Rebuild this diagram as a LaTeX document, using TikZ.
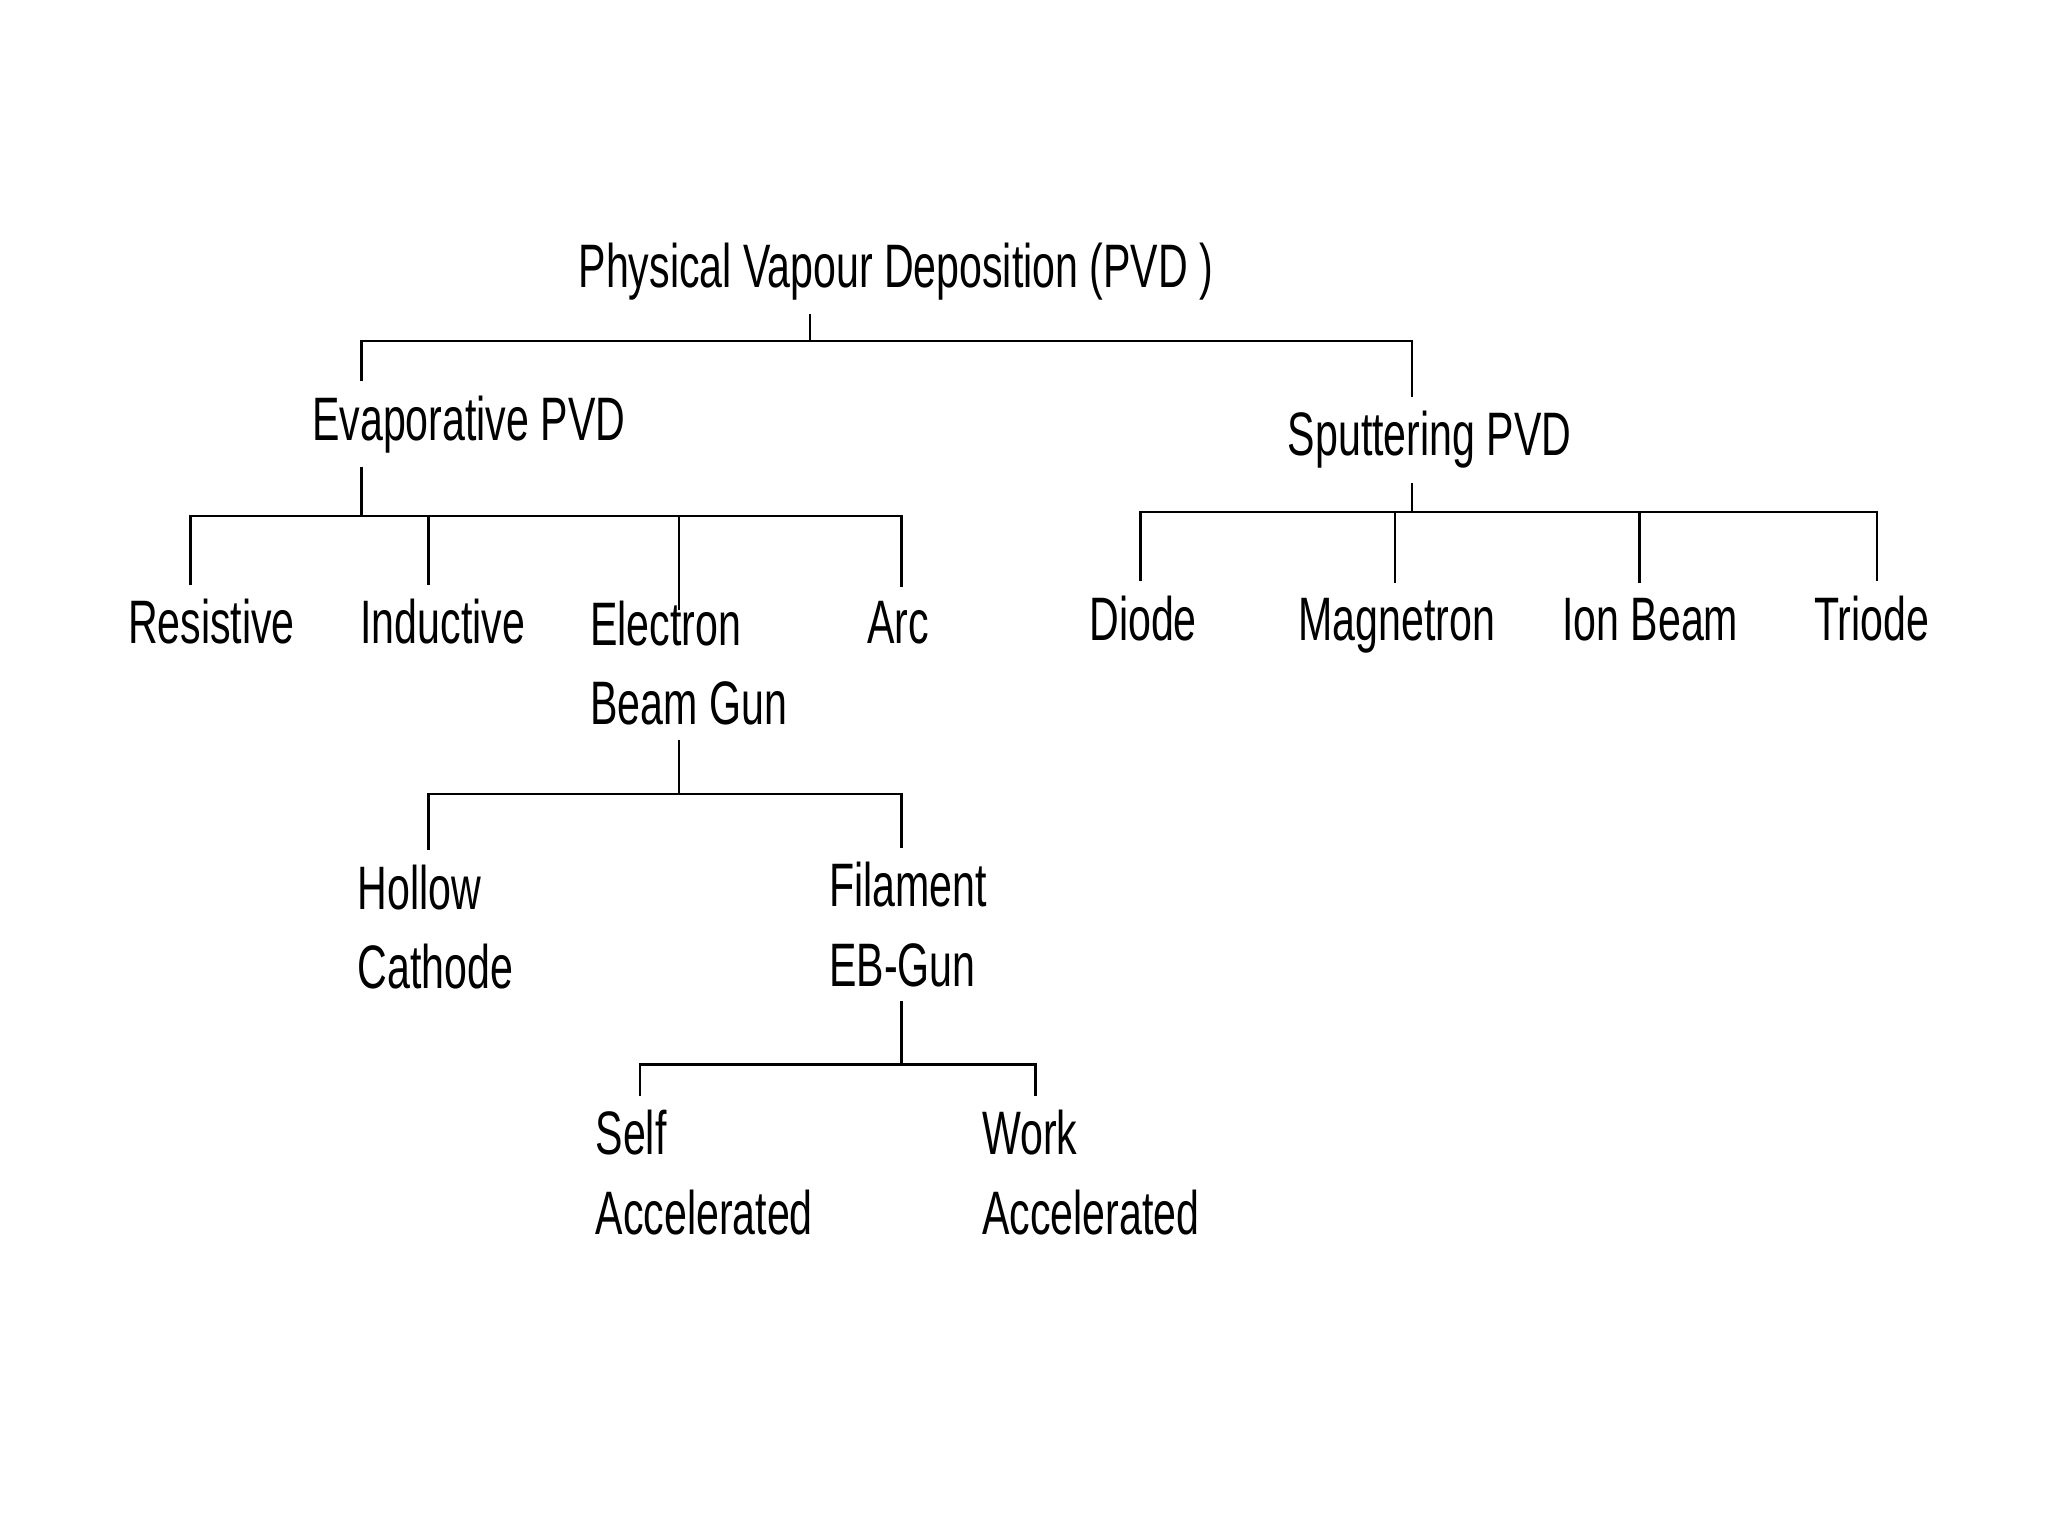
\documentclass[tikz,border=0pt]{standalone}
\usepackage{fontspec}
\setmainfont{Liberation Sans}[FakeStretch=0.67]
\begin{document}
\begin{tikzpicture}[x=0.5pt,y=-0.5pt,line width=1pt,
				every node/.style={anchor=base west,inner sep=5pt,align=left,
				font=\fontsize{23.5}{30.5}\selectfont}]
\useasboundingbox (0,0) rectangle (1568,1176);
% labels (two-line ones sit on the baseline of their last line)
\node (pvd) at (432,220) {Physical Vapour Deposition (PVD )};
\node (evap) at (228,337) {Evaporative PVD};
\node (sput) at (975,349) {Sputtering PVD};
\node (res) at (87,493) {Resistive};
\node (ind) at (265,493) {Inductive};
\node (elec) at (441,555) {Electron\\Beam Gun};
\node (arc) at (653,493) {Arc};
\node (diode) at (823,490) {Diode};
\node (mag) at (983,490) {Magnetron};
\node (ion) at (1185,490) {Ion Beam};
\node (tri) at (1378,490) {Triode};
\node (hol) at (263,757) {Hollow\\Cathode};
\node (fil) at (624,755) {Filament\\EB-Gun};
\node (self) at (445,945) {Self\\Accelerated};
\node (work) at (741,945) {Work\\Accelerated};
% junctions
\coordinate (a0) at (620,261);
\coordinate (a1) at (277,261);
\coordinate (a2) at (1081,261);
\coordinate (b0) at (277,395);
\coordinate (b1) at (146,395);
\coordinate (b2) at (328,395);
\coordinate (b3) at (520,395);
\coordinate (b4) at (690,395);
\coordinate (c0) at (1081,392);
\coordinate (c1) at (873,392);
\coordinate (c2) at (1068,392);
\coordinate (c3) at (1255,392);
\coordinate (c4) at (1437,392);
\coordinate (d0) at (520,608);
\coordinate (d1) at (328,608);
\coordinate (d2) at (690,608);
\coordinate (e0) at (690,815);
\coordinate (e1) at (490,815);
\coordinate (e2) at (793,815);
% connectors
\draw (a0 |- pvd.south) -- (a0);
\draw (a1 |- evap.north) -- (a1) -- (a2) -- (a2 |- sput.north);
\draw (b0 |- evap.south) -- (b0);
\draw (b1 |- res.north) -- (b1) -- (b4) -- (b4 |- arc.north);
\draw (b2) -- (b2 |- ind.north);
\draw[shorten >=-9pt] (b3) -- (b3 |- elec.north);
\draw (c0 |- sput.south) -- (c0);
\draw (c1 |- diode.north) -- (c1) -- (c4) -- (c4 |- tri.north);
\foreach \j/\n in {c2/mag,c3/ion}
	\draw (\j) -- (\j |- \n.north);
\draw (d0 |- elec.south) -- (d0);
\draw (d1 |- hol.north) -- (d1) -- (d2) -- (d2 |- fil.north);
\draw (e0 |- fil.south) -- (e0);
\draw (e1 |- self.north) -- (e1) -- (e2) -- (e2 |- work.north);
\end{tikzpicture}
\end{document}
